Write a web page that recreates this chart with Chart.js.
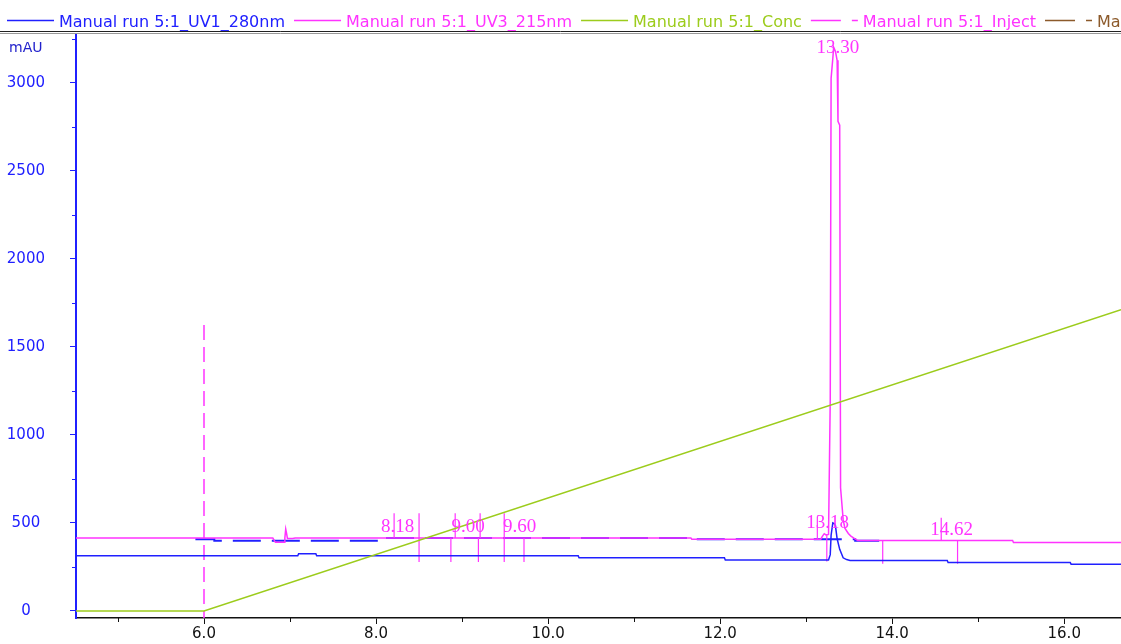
<!DOCTYPE html>
<html>
<head>
<meta charset="utf-8">
<title>Manual run 5:1</title>
<script src="https://cdn.jsdelivr.net/npm/chart.js@4.4.1/dist/chart.umd.min.js"></script>
<style>
  html, body { margin: 0; padding: 0; background: #fff; overflow: hidden; }
  #wrap { position: relative; width: 1121px; height: 644px; }
</style>
</head>
<body>
<div id="wrap"><canvas id="myChart"></canvas></div>
<script>
// retention (min) / absorbance (mAU)
const uv280Time = [4.51, 7.09, 7.10, 7.30, 7.31, 10.35, 10.36, 12.05, 12.06, 13.26, 13.28, 13.29, 13.31, 13.33, 13.34, 13.36, 13.39, 13.43, 13.47, 13.51, 14.64, 14.65, 16.07, 16.08, 16.66];
const uv280 = [313, 313, 325, 325, 313, 313, 302, 302, 290, 290, 320, 430, 500, 495, 485, 410, 350, 302, 292, 287, 287, 275, 275, 266, 266];

const uv215Time = [4.51, 6.80, 6.83, 6.93, 6.94, 6.95, 6.96, 6.97, 7.03, 7.06, 11.66, 11.67, 13.17, 13.19, 13.21, 13.23, 13.26, 13.28, 13.29, 13.31, 13.32, 13.34, 13.36, 13.37, 13.39, 13.40, 13.43, 13.45, 13.49, 13.52, 13.56, 13.60, 15.40, 15.41, 16.66];
const uv215 = [415, 415, 390, 390, 415, 465, 440, 412, 412, 415, 415, 408, 408, 425, 439, 432, 435, 1200, 3026, 3140, 3202, 3180, 3128, 2781, 2760, 700, 520, 470, 440, 425, 412, 400, 400, 389, 389];

const uv260Time = [5.90, 6.12, 6.12, 8.05, 8.05, 11.63, 11.63, 11.72, 11.72, 13.57, 13.57, 13.90];
const uv260 = [408, 408, 399, 399, 415, 415, 410, 410, 408, 408, 399, 399];

const concTime = [4.51, 6.0, 16.66];
const conc = [0, 0, 1712];

const injectTime = [6.0, 6.0];
const inject = [1625, -40];

// peak table
const peakTimes = [8.18, 9.00, 9.60, 13.18, 13.30, 14.62];
const peakHeights = [415, 415, 415, 439, 3202, 400];

// peak markers and drop lines (min, top mAU, bottom mAU)
const markTime = [8.21, 8.50, 8.87, 8.92, 9.19, 9.21, 9.49, 9.72, 13.13, 13.24, 13.89, 14.57, 14.76];
const markTop = [555, 555, 415, 555, 415, 555, 555, 415, 536, 435, 400, 530, 400];
const markBottom = [415, 278, 278, 415, 278, 415, 278, 278, 408, 281, 268, 400, 268];

const xTicks = [6, 8, 10, 12, 14, 16];
const yTicks = [0, 500, 1000, 1500, 2000, 2500, 3000];

const BLUE = '#2020ff';
const MAGENTA = '#ff33ff';
const GREEN = '#9ccc1c';
const BROWN = '#8c5a2b';
const FONT = '"DejaVu Sans", Verdana, sans-serif';

function points(times, values) {
  return times.map((t, i) => ({ x: t, y: values[i] }));
}

function segments(times, tops, bottoms) {
  const pts = [];
  times.forEach((t, i) => {
    pts.push({ x: t, y: tops[i] }, { x: t, y: bottoms[i] }, { x: t, y: null });
  });
  return pts;
}

function curve(label, color, data, extra) {
  return Object.assign({
    label: label,
    data: data,
    borderColor: color,
    backgroundColor: color,
    borderWidth: 1.5,
    pointRadius: 0,
    showLine: true,
    tension: 0,
    spanGaps: false
  }, extra || {});
}

// legend row and double rule across the top
const headerLegend = {
  id: 'headerLegend',
  afterDraw(chart) {
    const ctx = chart.ctx;
    ctx.save();
    ctx.font = '16px ' + FONT;
    ctx.textBaseline = 'alphabetic';
    let x = 7;
    chart.data.datasets.forEach(ds => {
      if (!ds.legendSample) return;
      ctx.strokeStyle = ds.borderColor;
      ctx.lineWidth = 1.5;
      ctx.setLineDash(ds.legendSample === 'dash' ? [30, 11, 6, 100] : []);
      ctx.beginPath();
      ctx.moveTo(x, 20.5);
      ctx.lineTo(x + 47, 20.5);
      ctx.stroke();
      ctx.setLineDash([]);
      ctx.fillStyle = ds.borderColor;
      ctx.fillText(ds.label, x + 52, 26.5);
      x += 52 + ctx.measureText(ds.label).width + 9;
    });
    ctx.lineWidth = 1;
    ctx.strokeStyle = '#222';
    ctx.beginPath();
    ctx.moveTo(0, 31.5);
    ctx.lineTo(chart.width, 31.5);
    ctx.stroke();
    ctx.strokeStyle = '#999';
    ctx.beginPath();
    ctx.moveTo(0, 33.5);
    ctx.lineTo(chart.width, 33.5);
    ctx.stroke();

    ctx.fillStyle = '#2222cc';
    ctx.font = '14px ' + FONT;
    ctx.fillText('mAU', 9, 52);
    ctx.restore();
  }
};

// minor ticks halfway between the labelled ones
const minorTicks = {
  id: 'minorTicks',
  afterDraw(chart) {
    const { ctx, chartArea, scales } = chart;
    ctx.save();
    ctx.lineWidth = 1;
    ctx.strokeStyle = BLUE;
    for (let v = 250; v < scales.y.max; v += 500) {
      const y = Math.round(scales.y.getPixelForValue(v)) + 0.5;
      ctx.beginPath();
      ctx.moveTo(chartArea.left - 4, y);
      ctx.lineTo(chartArea.left, y);
      ctx.stroke();
    }
    ctx.strokeStyle = '#111';
    for (let v = 5; v < scales.x.max; v += 2) {
      const x = Math.round(scales.x.getPixelForValue(v)) + 0.5;
      ctx.beginPath();
      ctx.moveTo(x, chartArea.bottom);
      ctx.lineTo(x, chartArea.bottom + 4);
      ctx.stroke();
    }
    ctx.restore();
  }
};

// retention time labels above each peak
const peakLabels = {
  id: 'peakLabels',
  afterDatasetsDraw(chart) {
    const { ctx, chartArea, scales } = chart;
    ctx.save();
    ctx.font = '19px "Liberation Serif", "Times New Roman", serif';
    ctx.fillStyle = MAGENTA;
    ctx.textAlign = 'center';
    ctx.textBaseline = 'alphabetic';
    peakTimes.forEach((t, i) => {
      const x = scales.x.getPixelForValue(t) + 6;
      let y = scales.y.getPixelForValue(peakHeights[i]) - 6;
      y = Math.max(y, chartArea.top + 18);
      ctx.fillText(t.toFixed(2), x, y);
    });
    ctx.restore();
  }
};

const data = {
  datasets: [
    curve('Manual run 5:1_UV1_280nm', BLUE, points(uv280Time, uv280), { legendSample: 'solid', order: 2 }),
    curve('Manual run 5:1_UV3_215nm', MAGENTA, points(uv215Time, uv215), { legendSample: 'solid', order: 1 }),
    curve('Manual run 5:1_Conc', GREEN, points(concTime, conc), { legendSample: 'solid', order: 0 }),
    curve('Manual run 5:1_Inject', MAGENTA, points(injectTime, inject), { legendSample: 'dash', borderDash: [15, 7], order: 3 }),
    curve('Manual run 5:1_Fractions', BROWN, [], { legendSample: 'dash', order: 4 }),
    curve('Manual run 5:1_UV2_260nm', BLUE, points(uv260Time, uv260), { borderDash: [28, 11], borderWidth: 2, order: 6 }),
    curve('Peak marks', MAGENTA, segments(markTime, markTop, markBottom), { borderWidth: 1.2, order: 5 })
  ]
};

const config = {
  type: 'scatter',
  data: data,
  options: {
    responsive: true,
    maintainAspectRatio: false,
    devicePixelRatio: 1,
    animation: false,
    layout: { padding: { top: 35, left: 0, right: 0, bottom: 0 } },
    plugins: {
      legend: { display: false },
      tooltip: { enabled: false }
    },
    scales: {
      x: {
        type: 'linear',
        position: 'bottom',
        min: 4.512,
        max: 16.66,
        afterFit(scale) {
          scale.height = 26;
          scale.paddingLeft = 0;
          scale.paddingRight = 0;
        },
        afterBuildTicks(scale) { scale.ticks = xTicks.map(v => ({ value: v })); },
        border: { color: '#111', width: 1.5 },
        grid: { drawOnChartArea: false, tickLength: 6, tickColor: '#111', tickWidth: 1 },
        ticks: {
          color: '#111',
          padding: 1,
          maxRotation: 0,
          autoSkip: false,
          font: { family: FONT, size: 15 },
          callback: v => v.toFixed(1)
        }
      },
      y: {
        type: 'linear',
        min: -40,
        max: 3272,
        afterFit(scale) {
          scale.width = 76;
          scale.paddingTop = 0;
          scale.paddingBottom = 0;
        },
        afterBuildTicks(scale) { scale.ticks = yTicks.map(v => ({ value: v })); },
        border: { color: BLUE, width: 2 },
        grid: { drawOnChartArea: false, tickLength: 6, tickColor: BLUE, tickWidth: 1 },
        ticks: {
          color: BLUE,
          padding: 25,
          crossAlign: 'center',
          autoSkip: false,
          font: { family: FONT, size: 15 },
          callback: v => String(v)
        }
      }
    }
  },
  plugins: [minorTicks, peakLabels, headerLegend]
};

const ctx = document.getElementById('myChart');
new Chart(ctx, config);
</script>
</body>
</html>
